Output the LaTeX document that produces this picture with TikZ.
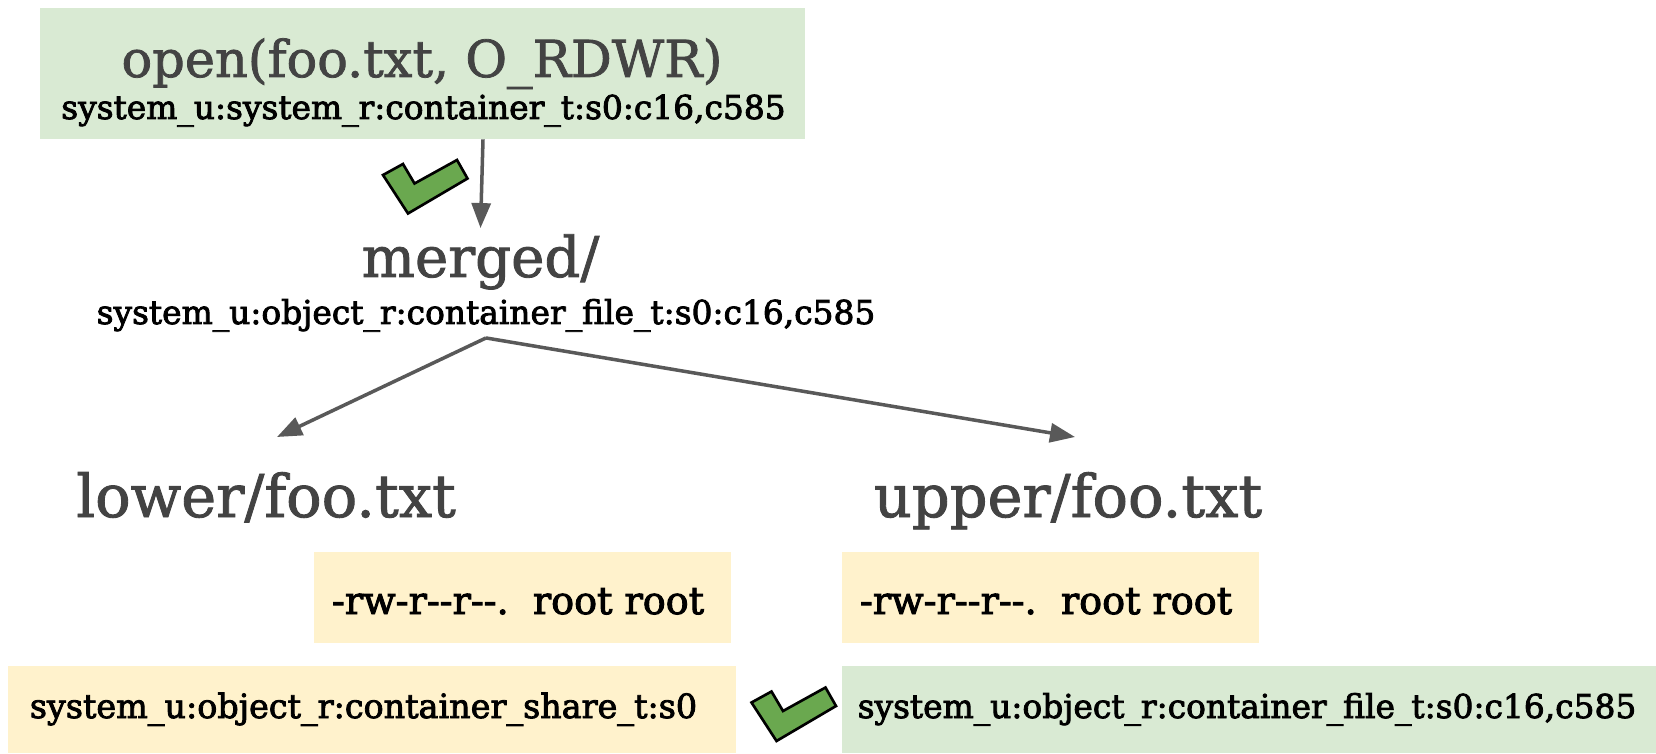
\documentclass[tikz,border=0pt]{standalone}
\usepackage{fontspec}
\setmainfont{DejaVu Serif}
\newfontfamily\ctxfont{DejaVu Serif}[FakeBold=2.5]
\newfontfamily\namefont{DejaVu Serif}[FakeBold=1.5]
\usetikzlibrary{arrows.meta}
\definecolor{boxgreen}{HTML}{D9EAD3}
\definecolor{boxyellow}{HTML}{FFF2CC}
\definecolor{tickgreen}{HTML}{6AA84F}
\definecolor{textgray}{HTML}{434343}
\definecolor{linegray}{HTML}{595959}
\newcommand{\tickmark}[1]{%
  \filldraw[fill=tickgreen, draw=black, line width=1.5pt, line join=miter, shift={#1}]
    (0,0) -- (0.40,0.22) -- (0.63,-0.17) -- (1.48,0.30) -- (1.69,-0.07) -- (0.50,-0.77) -- cycle;}
\begin{document}
\begin{tikzpicture}[
    bigtext/.style={font=\namefont\fontsize{29}{35}\selectfont, text=textgray, anchor=base},
    smalltext/.style={font=\ctxfont\fontsize{18.7}{22}\selectfont, text=black, anchor=base},
    greenbox/.style={fill=boxgreen, inner sep=0pt},
    yellowbox/.style={fill=boxyellow, inner sep=0pt}]
  \useasboundingbox (0,0) rectangle (33.12,15.06);
  % coloured boxes
  \draw
    (8.45, 13.59) node[greenbox, minimum width=15.3cm, minimum height=2.62cm] (openbox){}
    (10.45, 3.11) node[yellowbox, minimum width=8.34cm, minimum height=1.82cm] (lowerbox){}
    (21.01, 3.11) node[yellowbox, minimum width=8.34cm, minimum height=1.82cm] (upperbox){}
    (7.44, 0.87) node[yellowbox, minimum width=14.56cm, minimum height=1.74cm] (sharebox){}
    (24.98, 0.87) node[greenbox, minimum width=16.28cm, minimum height=1.74cm] (filebox){};
  % texts
  \draw
    (8.44, 13.52) node[bigtext] (opencall){open(foo.txt, O\_RDWR)}
    (8.47, 12.68) node[smalltext] (openctx){system\_u:system\_r:container\_t:s0:c16,c585}
    (9.61, 9.52) node[bigtext, font=\namefont\fontsize{32}{38}\selectfont] (merged){merged/}
    (9.72, 8.58) node[smalltext] (mergedctx){system\_u:object\_r:container\_file\_t:s0:c16,c585}
    (5.32, 4.72) node[bigtext, font=\namefont\fontsize{33.6}{40}\selectfont] (lower){lower/foo.txt}
    (21.36, 4.72) node[bigtext, font=\namefont\fontsize{33.6}{40}\selectfont] (upper){upper/foo.txt}
    (10.36, 2.78) node[smalltext, font=\ctxfont\fontsize{21.7}{26}\selectfont] (lowerperm){-rw-r-{}-r-{}-.\ \ root root}
    (20.92, 2.78) node[smalltext, font=\ctxfont\fontsize{21.7}{26}\selectfont] (upperperm){-rw-r-{}-r-{}-.\ \ root root}
    (7.27, 0.70) node[smalltext, font=\ctxfont\fontsize{19}{22}\selectfont] (sharectx){system\_u:object\_r:container\_share\_t:s0}
    (24.94, 0.70) node[smalltext] (filectx){system\_u:object\_r:container\_file\_t:s0:c16,c585};
  \coordinate (lowerend) at (5.54, 6.32);
  \coordinate (upperend) at (21.50, 6.32);
  \begin{scope}[-{Triangle[length=0.5cm, width=0.38cm]}, draw=linegray, line width=2pt]
    \draw ([xshift=1.21cm]openbox.south) to (merged.north);
    \draw (mergedctx.south) to (lowerend);
    \draw (mergedctx.south) to (upperend);
  \end{scope}
  \tickmark{(7.66, 11.56)}
  \tickmark{(15.03, 1.01)}
\end{tikzpicture}
\end{document}
